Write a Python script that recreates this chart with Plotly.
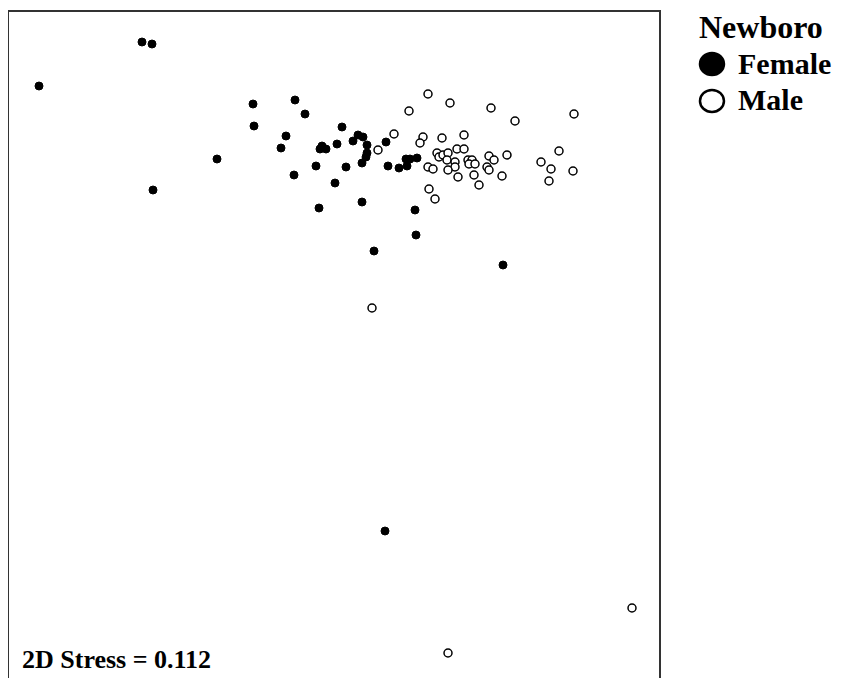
import plotly.graph_objects as go

# NMDS ordination coordinates
female_nmds1 = [-2.91, -1.88, -1.78, -1.77, -1.13, -0.77, -0.76, -0.35, -0.25, -0.44,
                -0.49, -0.14, -0.36, -0.11, -0.08, -0.04, -0.10, 0.12, 0.07, 0.16,
                0.05, 0.23, 0.28, 0.33, 0.37, 0.37, 0.36, 0.32, 0.32, 0.56,
                0.58, 0.69, 0.76, 0.80, 0.77, 0.87, 0.85, 0.86, 0.44, 1.73, 0.55]
female_nmds2 = [2.64, 3.08, 3.06, 1.60, 1.91, 2.46, 2.24, 2.50, 2.36, 2.14,
                2.02, 1.84, 1.75, 1.42, 2.04, 2.01, 2.01, 2.23, 2.06, 1.83,
                1.67, 2.09, 2.15, 2.13, 2.05, 1.97, 1.93, 1.87, 1.48, 2.08,
                1.84, 1.82, 1.91, 1.91, 1.84, 1.92, 1.40, 1.15, 0.99, 0.85, -1.81]

male_nmds1 = [0.48, 0.64, 0.79, 0.98, 1.20, 1.61, 1.85, 2.44, 0.93, 0.90,
              1.12, 1.34, 1.27, 1.34, 1.07, 1.09, 1.13, 1.18, 1.17, 1.25,
              1.25, 1.18, 0.98, 1.03, 1.28, 1.38, 1.42, 1.39, 1.45, 1.44,
              1.49, 1.59, 1.64, 1.57, 1.59, 1.77, 1.72, 0.99, 1.05, 2.11,
              2.29, 2.21, 2.19, 2.43, 0.42, 3.02, 1.18]
male_nmds2 = [2.00, 2.16, 2.39, 2.56, 2.47, 2.42, 2.29, 2.36, 2.13, 2.07,
              2.12, 2.15, 2.01, 2.01, 1.97, 1.93, 1.95, 1.97, 1.90, 1.88,
              1.83, 1.80, 1.83, 1.81, 1.73, 1.90, 1.90, 1.86, 1.86, 1.75,
              1.65, 1.94, 1.90, 1.83, 1.80, 1.95, 1.74, 1.61, 1.51, 1.88,
              1.99, 1.81, 1.69, 1.79, 0.42, -2.58, -3.03]

legend_title = "Newboro"
group_names = ["Female", "Male"]
stress_label = "2D Stress = 0.112"

FONT = "Liberation Serif, Times New Roman, serif"

fig = go.Figure()
fig.add_trace(go.Scatter(
    x=female_nmds1, y=female_nmds2, mode="markers", name=group_names[0],
    marker=dict(symbol="circle", size=8, color="black",
                line=dict(color="black", width=1)),
    showlegend=False,
))
fig.add_trace(go.Scatter(
    x=male_nmds1, y=male_nmds2, mode="markers", name=group_names[1],
    marker=dict(symbol="circle", size=8, color="white",
                line=dict(color="black", width=1.5)),
    showlegend=False,
))

# stress annotation
fig.add_annotation(
    text="<b>" + stress_label + "</b>", xref="paper", yref="paper",
    x=0.017, y=0.028, xanchor="left", yanchor="middle", showarrow=False,
    font=dict(family=FONT, size=26, color="black"),
)

# legend (drawn as text + symbols so the symbols can be large)
fig.add_annotation(
    text="<b>" + legend_title + "</b>", xref="paper", yref="paper",
    x=1.058, y=0.9775, xanchor="left", yanchor="middle", showarrow=False,
    font=dict(family=FONT, size=32, color="black"),
)
legend_text_y = [0.9234, 0.8679]
legend_sym_y = [0.9219, 0.8664]
legend_fill = ["black", "white"]
for name, ty, sy, fill in zip(group_names, legend_text_y, legend_sym_y, legend_fill):
    fig.add_annotation(
        text="<b>" + name + "</b>", xref="paper", yref="paper",
        x=1.118, y=ty, xanchor="left", yanchor="middle", showarrow=False,
        font=dict(family=FONT, size=30, color="black"),
    )
    fig.add_shape(
        type="circle", xref="paper", yref="paper",
        xsizemode="pixel", ysizemode="pixel",
        xanchor=1.0815, yanchor=sy,
        x0=-12, x1=12, y0=-11, y1=11,
        fillcolor=fill, line=dict(color="black", width=2.5),
    )

fig.update_xaxes(range=[-3.21, 3.29], side="top", showline=True, linecolor="#333",
                 linewidth=2, showgrid=False, zeroline=False, showticklabels=False,
                 ticks="")
fig.update_yaxes(range=[-3.28, 3.38], showline=True, mirror=True, linecolor="#333",
                 linewidth=2, showgrid=False, zeroline=False, showticklabels=False,
                 ticks="")

fig.update_layout(
    width=836, height=670,
    margin=dict(l=1, r=185, t=4, b=0),
    paper_bgcolor="white", plot_bgcolor="white",
    showlegend=False,
)

fig.write_html("out.html")
